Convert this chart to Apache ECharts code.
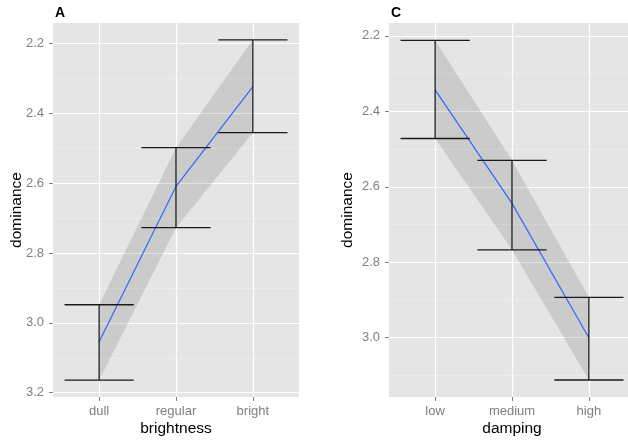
<!DOCTYPE html>
<html>
<head>
<meta charset="utf-8">
<script src="https://cdn.jsdelivr.net/npm/echarts@6/dist/echarts.min.js"></script>
<style>html,body{margin:0;padding:0;background:#fff}#c{width:628px;height:441px}</style>
</head>
<body>
<div id="c"></div>
<script>
// Panel A: brightness
const brightCats = ['dull', 'regular', 'bright'];
const brightMean = [3.054, 2.609, 2.323];
const brightLower = [2.948, 2.498, 2.189];
const brightUpper = [3.164, 2.727, 2.455];
// Panel C: damping
const dampCats = ['low', 'medium', 'high'];
const dampMean = [2.343, 2.644, 3.000];
const dampLower = [2.212, 2.530, 2.893];
const dampUpper = [2.472, 2.767, 3.112];
// tick labels
const yTicks = [2.2, 2.4, 2.6, 2.8, 3.0, 3.2];
const yTicksC = [2.2, 2.4, 2.6, 2.8, 3.0];
const yMinorA = [2.3, 2.5, 2.7, 2.9, 3.1];
const yMinorC = [2.3, 2.5, 2.7, 2.9, 3.1];

const FONT = 'Liberation Sans, Arial, Helvetica, sans-serif';
const chart = echarts.init(document.getElementById('c'), null, {renderer: 'canvas'});

function xAxisCfg(gridIndex, cats, name) {
  return {
    type: 'value', gridIndex, min: 0.4, max: 3.6,
    name, nameLocation: 'middle', nameGap: 24, nameMoveOverlap: false,
    nameTextStyle: {color: '#000', fontSize: 15.5, fontFamily: FONT},
    axisLine: {show: false},
    axisTick: {show: true, length: 4, lineStyle: {color: '#7f7f7f', width: 1}, customValues: [1, 2, 3]},
    axisLabel: {customValues: [1, 2, 3], color: '#7f7f7f', fontSize: 13, fontFamily: FONT, margin: 8,
      formatter: v => cats[Math.round(v) - 1] || ''},
    splitLine: {show: false}
  };
}
function yAxisCfg(gridIndex, min, max, ticks, gap) {
  return {
    type: 'value', gridIndex, inverse: true, min, max,
    name: 'dominance', nameLocation: 'middle', nameRotate: 90, nameGap: gap, nameMoveOverlap: false,
    nameTextStyle: {color: '#000', fontSize: 15.5, fontFamily: FONT},
    axisLine: {show: false},
    axisTick: {show: true, length: 4, lineStyle: {color: '#7f7f7f', width: 1}, customValues: ticks},
    axisLabel: {customValues: ticks, color: '#7f7f7f', fontSize: 13, fontFamily: FONT, margin: 9,
      formatter: v => v.toFixed(1)},
    splitLine: {show: false}
  };
}
function gridLines(idx, majors, minors) {
  return {
    type: 'line', xAxisIndex: idx, yAxisIndex: idx, data: [], z: 1, silent: true,
    markLine: {
      z: 1, silent: true, symbol: 'none', animation: false, label: {show: false},
      data: [
        ...minors.map(v => ({yAxis: v, lineStyle: {color: '#f2f2f2', width: 0.6, type: 'solid'}})),
        ...majors.map(v => ({yAxis: v, lineStyle: {color: '#ffffff', width: 1.2, type: 'solid'}})),
        ...[1, 2, 3].map(v => ({xAxis: v, lineStyle: {color: '#ffffff', width: 1.2, type: 'solid'}}))
      ]
    }
  };
}
function ribbon(idx, lower, upper) {
  return {
    type: 'custom', xAxisIndex: idx, yAxisIndex: idx, z: 2, silent: true,
    data: lower.map((v, i) => [i + 1, v, upper[i]]),
    encode: {x: 0, y: [1, 2]},
    renderItem: (params, api) => {
      if (params.dataIndex !== 0) return null;
      const pts = [];
      for (let i = 0; i < lower.length; i++) pts.push(api.coord([i + 1, lower[i]]));
      for (let i = upper.length - 1; i >= 0; i--) pts.push(api.coord([i + 1, upper[i]]));
      return {type: 'polygon', shape: {points: pts}, style: {fill: 'rgba(0,0,0,0.115)'}};
    }
  };
}
function meanLine(idx, mean) {
  return {
    type: 'line', xAxisIndex: idx, yAxisIndex: idx, z: 3, silent: true,
    data: mean.map((v, i) => [i + 1, v]), symbol: 'none',
    lineStyle: {color: '#3366ff', width: 1.2}
  };
}
function errBars(idx, lower, upper) {
  return {
    type: 'custom', xAxisIndex: idx, yAxisIndex: idx, z: 4, silent: true,
    data: lower.map((v, i) => [i + 1, v, upper[i]]),
    encode: {x: 0, y: [1, 2]},
    renderItem: (params, api) => {
      const x = api.value(0), lo = api.value(1), hi = api.value(2);
      const a = api.coord([x, lo]), b = api.coord([x, hi]);
      const l1 = api.coord([x - 0.45, lo]), r1 = api.coord([x + 0.45, lo]);
      const l2 = api.coord([x - 0.45, hi]), r2 = api.coord([x + 0.45, hi]);
      const st = {stroke: '#1a1a1a', lineWidth: 1.3};
      return {type: 'group', children: [
        {type: 'line', shape: {x1: a[0], y1: a[1], x2: b[0], y2: b[1]}, style: st},
        {type: 'line', shape: {x1: l1[0], y1: l1[1], x2: r1[0], y2: r1[1]}, style: st},
        {type: 'line', shape: {x1: l2[0], y1: l2[1], x2: r2[0], y2: r2[1]}, style: st}
      ]};
    }
  };
}

chart.setOption({
  animation: false,
  textStyle: {fontFamily: FONT},
  title: [
    {text: 'A', left: 50, top: 1, textStyle: {fontSize: 14, fontWeight: 'bold', color: '#000', fontFamily: FONT}},
    {text: 'C', left: 386, top: 1, textStyle: {fontSize: 14, fontWeight: 'bold', color: '#000', fontFamily: FONT}}
  ],
  grid: [
    {left: 53, top: 23, width: 246, height: 374, show: true, backgroundColor: '#e5e5e5', borderWidth: 0,
      outerBoundsMode: 'none', containLabel: false},
    {left: 389, top: 23, width: 246, height: 374, show: true, backgroundColor: '#e5e5e5', borderWidth: 0,
      outerBoundsMode: 'none', containLabel: false}
  ],
  xAxis: [xAxisCfg(0, brightCats, 'brightness'), xAxisCfg(1, dampCats, 'damping')],
  yAxis: [yAxisCfg(0, 2.1407, 3.2123, yTicks, 28), yAxisCfg(1, 2.166, 3.157, yTicksC, 33)],
  series: [
    gridLines(0, yTicks, yMinorA), ribbon(0, brightLower, brightUpper), meanLine(0, brightMean), errBars(0, brightLower, brightUpper),
    gridLines(1, yTicksC, yMinorC), ribbon(1, dampLower, dampUpper), meanLine(1, dampMean), errBars(1, dampLower, dampUpper)
  ]
});
</script>
</body>
</html>
